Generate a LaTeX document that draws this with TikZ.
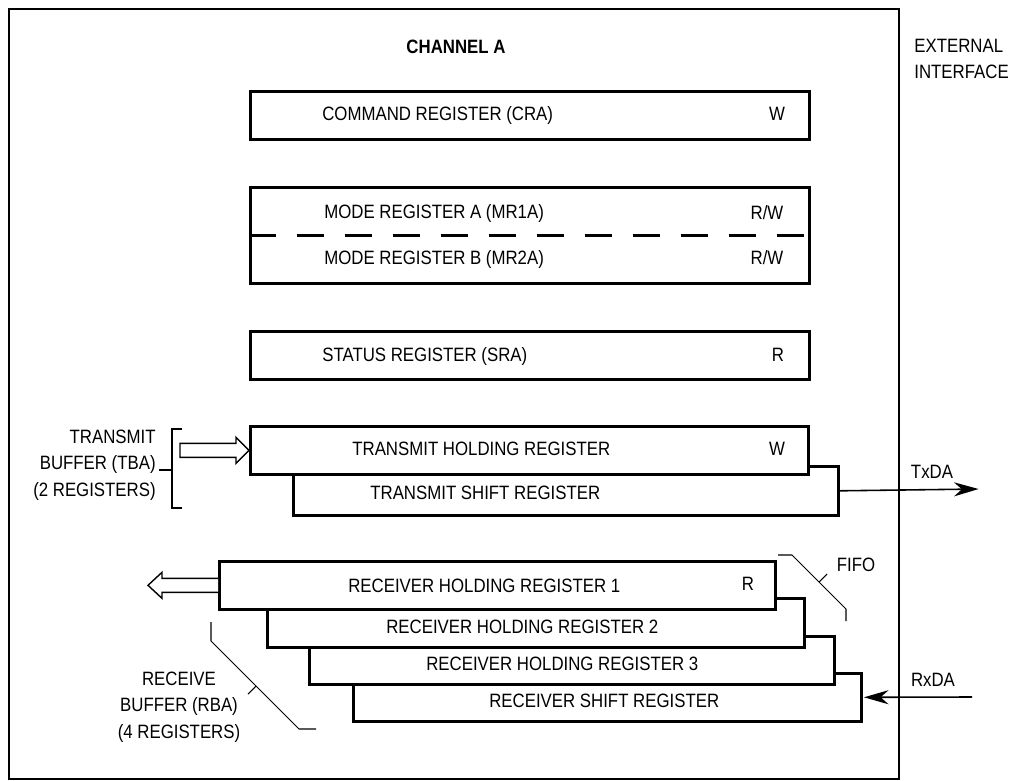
\documentclass[tikz,border=0pt]{standalone}
\usepackage{fontspec}
\setmainfont{Liberation Sans}[FakeStretch=0.87]
\usetikzlibrary{arrows.meta}

\begin{document}
\begin{tikzpicture}[x=0.02cm,y=-0.02cm,
		reg/.style={draw,line width=1.5pt,fill=white,inner sep=0pt,anchor=north west},
		txt/.style={font=\fontsize{11}{15}\selectfont,inner sep=0pt,text height=7.9pt,text depth=0pt},
		multi/.style={font=\fontsize{11}{15}\selectfont,inner sep=0pt},
		brk/.style={line width=0.6pt},
		fatarrow/.style={draw,line width=0.8pt,fill=white,line join=miter},
		sig/.style={line width=0.9pt,shorten >=0.8pt,-{Stealth[length=14pt,width=8pt,inset=4.5pt]}}]
			\useasboundingbox (0,0) rectangle (1019,781);
			
			\draw[line width=1.5pt] (9,9) rectangle (899,779);
			
			\node[reg,minimum width=11.18cm,minimum height=0.96cm] (cra) at (249,90) {};
			\node[reg,minimum width=11.18cm,minimum height=1.92cm] (mra) at (249,186) {};
			\node[reg,minimum width=11.18cm,minimum height=0.96cm] (sra) at (249,330) {};
			\draw[line width=1.5pt,dash pattern=on 0.54cm off 0.42cm] (mra.west) -- (mra.east);
			
			\node[reg,minimum width=10.9cm,minimum height=0.98cm] (tsr) at (292,465) {};
			\node[reg,minimum width=11.16cm,minimum height=0.96cm] (thr) at (249,425) {};
			
			\node[reg,minimum width=10.16cm,minimum height=0.96cm] (rsr) at (352,672) {};
			\node[reg,minimum width=10.5cm,minimum height=0.96cm] (rhr3) at (308,635) {};
			\node[reg,minimum width=10.74cm,minimum height=0.98cm] (rhr2) at (266,597) {};
			\node[reg,minimum width=11.12cm,minimum height=0.96cm] (rhr1) at (218,560) {};
			
			\node[txt,font=\fontsize{11}{15}\selectfont\bfseries] (chan) at (456,47) {CHANNEL A};
			\node[multi,anchor=west,align=left] (ext) at (914,59) {EXTERNAL\\INTERFACE};
			
			\node[txt,anchor=west] (cratxt) at (322,114) {COMMAND REGISTER (CRA)};
			\node[txt] (craw) at (777,114) {W};
			\node[txt,anchor=west] (mratxt) at (324,212) {MODE REGISTER A (MR1A)};
			\node[txt] (mrarw) at (767,213) {R/W};
			\node[txt,anchor=west] (mrbtxt) at (324,258) {MODE REGISTER B (MR2A)};
			\node[txt] (mrbrw) at (767,258) {R/W};
			\node[txt,anchor=west] (sratxt) at (322,355) {STATUS REGISTER (SRA)};
			\node[txt] (srar) at (778,355) {R};
			
			\node[txt,anchor=west] (thrtxt) at (352,449) {TRANSMIT HOLDING REGISTER};
			\node[txt] (thrw) at (777,449) {W};
			\node[txt,anchor=west] (tsrtxt) at (370,493) {TRANSMIT SHIFT REGISTER};
			
			\node[txt,anchor=west] (rhr1txt) at (348,586) {RECEIVER HOLDING REGISTER 1};
			\node[txt] (rhr1r) at (748,584) {R};
			\node[txt,anchor=west] (rhr2txt) at (386,627) {RECEIVER HOLDING REGISTER 2};
			\node[txt,anchor=west] (rhr3txt) at (426,664) {RECEIVER HOLDING REGISTER 3};
			\node[txt,anchor=west] (rsrtxt) at (489,701) {RECEIVER SHIFT REGISTER};
			
			% transmit buffer
			\node[multi,anchor=east,align=right] (tba) at (156,465) {TRANSMIT\\BUFFER (TBA)\\(2 REGISTERS)};
			\draw[brk] (182,429) -- (172,429) -- (172,508) -- (182,508);
			\draw[brk] (159,470) -- (172,470);
			\draw[fatarrow] (thr.west) -- ++(-13,-13) -- ++(0,6) -- ++(-56,0) -- ++(0,14) -- ++(56,0) -- ++(0,6) -- cycle;
			
			% receive buffer
			\node[multi,align=center] (rba) at (179,707) {RECEIVE\\BUFFER (RBA)\\(4 REGISTERS)};
			\draw[brk] (211,622) -- (211,641) -- (299,729) -- (316,729);
			\draw[brk] (256,686) -- (248,694);
			\draw[fatarrow] (rhr1.west) ++(0,-7) -- ++(-56,0) -- ++(0,-6) -- ++(-14,13) -- ++(14,13) -- ++(0,-6) -- ++(56,0);
			
			\node[txt] (fifo) at (856,565) {FIFO};
			\draw[brk] (778,555) -- (792,555) -- (846,609) -- (846,621);
			\draw[brk] (819,582) -- (827,574);
			
			\coordinate (txd) at (980,489);
			\draw[sig] (tsr.east) -- (txd);
			\node[txt] (txl) at (932,472) {TxDA};
			\coordinate (rxd) at (972,697);
			\draw[sig] (rxd) -- (rsr.east);
			\node[txt] (rxl) at (933,680) {RxDA};

		\end{tikzpicture}
\end{document}
